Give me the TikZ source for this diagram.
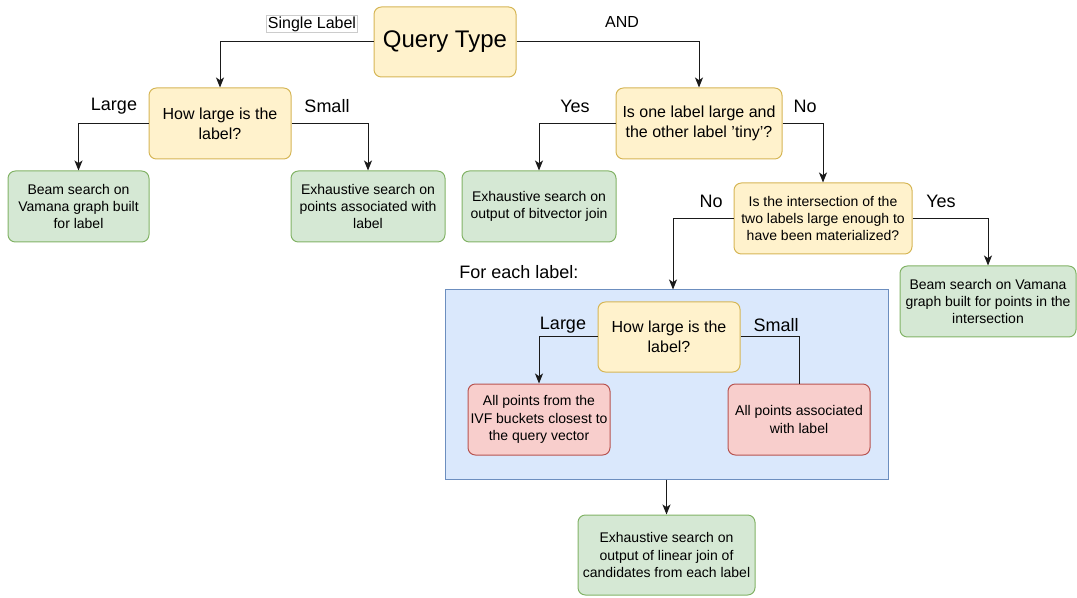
\documentclass[tikz,border=0pt]{standalone}
\usepackage{fontspec}
\setmainfont{Liberation Sans}
\usetikzlibrary{arrows.meta}

\definecolor{qfill}{HTML}{FFF2CC}
\definecolor{qline}{HTML}{D6B656}
\definecolor{gfill}{HTML}{D5E8D4}
\definecolor{gline}{HTML}{82B366}
\definecolor{rfill}{HTML}{F8CECC}
\definecolor{rline}{HTML}{B85450}
\definecolor{bfill}{HTML}{DAE8FC}
\definecolor{bline}{HTML}{6C8EBF}
\definecolor{edgecol}{HTML}{1A1A1A}

% straight apostrophe
\newcommand{\sq}{\symbol{39}}

\tikzset{
  px/.style={x=0.75pt,y=-0.75pt},
  box/.style={rounded corners=5.5pt, line width=0.75pt, align=center, inner sep=0pt,
              minimum height=53.25pt},
  question/.style={box, draw=qline, fill=qfill, font=\fontsize{12}{15}\selectfont},
  smallq/.style={box, draw=qline, fill=qfill, font=\fontsize{10.5}{13}\selectfont},
  result/.style={box, draw=gline, fill=gfill, font=\fontsize{10.5}{13}\selectfont},
  partial/.style={box, draw=rline, fill=rfill, font=\fontsize{10.5}{13}\selectfont},
  region/.style={draw=bline, fill=bfill, line width=0.75pt, inner sep=0pt},
  branch/.style={font=\fontsize{13.5}{16}\selectfont, inner sep=0pt},
  edgelabel/.style={font=\fontsize{12}{14.4}\selectfont, inner sep=0pt},
  flow/.style={draw=edgecol, line width=0.75pt, -{Stealth[length=7.5pt,width=6pt,inset=2pt]}},
  plain/.style={draw=edgecol, line width=0.75pt},
}

\begin{document}
\begin{tikzpicture}[px]
\useasboundingbox (0,0) rectangle (1077,598);

% top-level split on the kind of query
\node[question, minimum width=106.5pt, minimum height=52.5pt,
      font=\fontsize{18}{21.6}\selectfont] (qt) at (445,42) {Query Type};

% single-label branch
\node[question, minimum width=106.5pt] (sz1) at (220,123.5) {How large is the\\label?};
\node[result, minimum width=105.75pt] (beam1) at (78.5,206.5) {Beam search on\\Vamana graph built\\for label};
\node[result, minimum width=115.5pt] (ex1) at (368,206.5) {Exhaustive search on\\points associated with\\label};

% AND branch
\node[question, minimum width=124.5pt] (tiny) at (699,123.5) {Is one label large and\\the other label \sq tiny\sq?};
\node[result, minimum width=115.5pt] (bitv) at (539,206.5) {Exhaustive search on\\output of bitvector join};
\node[smallq, minimum width=133.5pt] (mat) at (823,218.5) {Is the intersection of the\\two labels large enough to\\have been materialized?};
\node[result, minimum width=132pt] (beam2) at (988,301.5) {Beam search on Vamana\\graph built for points in the\\intersection};

% per-label candidate gathering
\node[region, minimum width=332.25pt, minimum height=141.75pt] (each) at (666.5,384.5) {};
\node[font=\fontsize{13.5}{16}\selectfont, anchor=west, inner sep=0pt] (eachlbl) at (459,272) {For each label:};
\node[question, minimum width=106.5pt, minimum height=52.5pt] (sz2) at (669,337) {How large is the\\label?};
\node[partial, minimum width=106.5pt] (ivf) at (539,419.5) {All points from the\\IVF buckets closest to\\the query vector};
\node[partial, minimum width=106.5pt] (assoc) at (799,419.5) {All points associated\\with label};

\node[result, minimum width=132.75pt, minimum height=60pt] (lin) at (666.5,555) {Exhaustive search on\\output of linear join of\\candidates from each label};

% connectors
\draw[flow] (qt.west) -| (sz1.north);
\draw[flow] (qt.east) -| (tiny.north);
\draw[flow] (sz1.west) -| (beam1.north);
\draw[flow] (sz1.east) -| (ex1.north);
\draw[flow] (tiny.west) -| (bitv.north);
\draw[flow] (tiny.east) -| (mat.north);
\draw[flow] (mat.west) -| (each.north -| 673,0);
\draw[flow] (mat.east) -| (beam2.north);
\draw[flow] (sz2.west) -| (ivf.north);
\draw[plain] (sz2.east) -| (assoc.north);
\draw[flow] (each.south) -- (lin.north);

% branch labels
\node[edgelabel, draw=black!20, fill=white, line width=0.5pt, inner sep=1pt] (lsingle) at (312,24) {Single Label};
\node[edgelabel] (land) at (622,22) {AND};
\node[branch] (l1) at (114,106) {Large};
\node[branch] (s1) at (327,106) {Small};
\node[branch] (y1) at (575,106) {Yes};
\node[branch] (n1) at (805,106) {No};
\node[branch] (n2) at (711,201) {No};
\node[branch] (y2) at (941,201) {Yes};
\node[branch] (l2) at (563,325) {Large};
\node[branch] (s2) at (776,325) {Small};
\end{tikzpicture}
\end{document}
